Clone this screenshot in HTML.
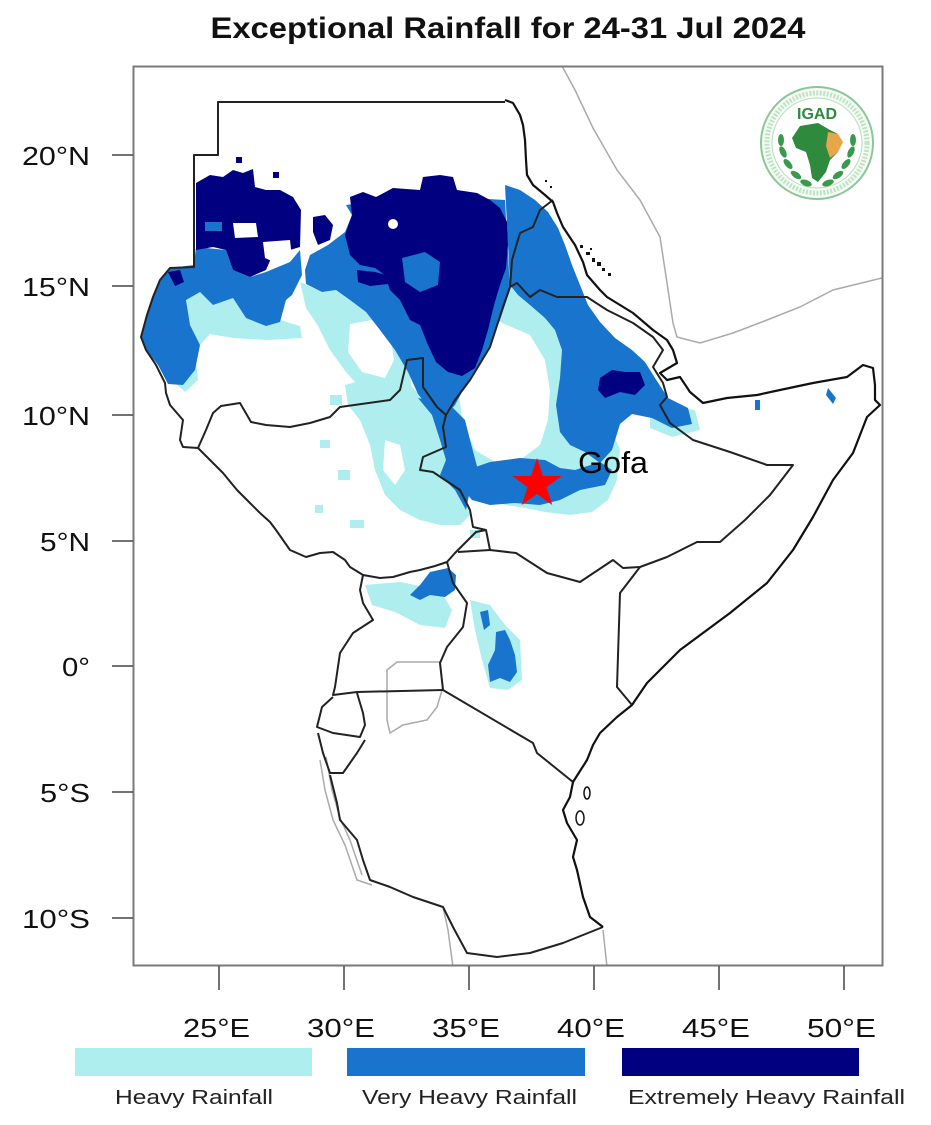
<!DOCTYPE html>
<html><head><meta charset="utf-8"><style>
html,body{margin:0;padding:0;background:#fff;}
svg{display:block;}
</style></head><body>
<svg width="931" height="1125" viewBox="0 0 931 1125" xmlns="http://www.w3.org/2000/svg">
<rect width="931" height="1125" fill="#fff"/>
<text x="508" y="38" font-family="Liberation Sans, sans-serif" font-weight="bold" font-size="30" text-anchor="middle" textLength="595" lengthAdjust="spacingAndGlyphs" fill="#111">Exceptional Rainfall for 24-31 Jul 2024</text>

<defs><clipPath id="fr"><rect x="134" y="67" width="748" height="898"/></clipPath></defs>

<g clip-path="url(#fr)">
<!-- cyan -->
<g fill="#afeeee">
<polygon points="186,298 200,292 213,305 233,298 246,318 266,325 280,320 300,326 302,338 266,340 233,338 210,334 200,345 190,330"/>
<polygon points="300,282 322,292 336,290 350,300 366,312 382,330 396,350 410,372 412,396 390,398 362,390 346,372 330,350 318,326 306,308"/>
<polygon points="345,385 370,378 395,372 410,385 425,400 440,420 455,440 458,470 462,490 470,515 460,525 440,525 420,520 400,510 385,495 375,470 370,445 360,420 348,405"/>
<polygon points="500,275 520,268 545,280 560,300 575,330 590,360 600,395 610,425 620,450 617,480 608,500 592,512 570,515 545,512 525,508 505,505 490,490 470,475 455,455 445,430 450,400 460,370 470,345 480,320 490,295"/>
<polygon points="650,405 695,410 700,430 672,437 650,428"/>
<polygon points="365,585 400,582 440,590 452,610 445,628 420,625 395,612 372,605"/>
<polygon points="470,600 490,605 505,625 520,640 522,680 508,690 490,688 482,660 475,630"/>
<polygon points="175,350 195,352 198,380 185,392 172,380"/>
<rect x="320" y="440" width="10" height="8"/><rect x="338" y="470" width="12" height="10"/><rect x="315" y="505" width="8" height="8"/><rect x="350" y="520" width="14" height="8"/><rect x="330" y="395" width="12" height="10"/><rect x="470" y="530" width="10" height="8"/>
</g>
<!-- white holes -->
<g fill="#fff">
<polygon points="470,330 500,322 530,335 545,360 550,390 548,420 540,445 520,460 495,462 475,450 462,420 458,385 462,355"/>
<polygon points="350,324 372,320 390,335 394,360 385,378 362,372 348,352"/>
<polygon points="385,440 400,445 405,470 395,485 383,470"/>
</g>
<!-- medium blue -->
<g fill="#1874cd">
<polygon points="170,268 194,265 196,247 226,250 233,270 250,277 266,272 290,262 300,250 302,275 292,295 286,300 280,322 266,326 246,318 233,298 213,305 200,292 186,300 190,325 200,345 195,370 183,385 168,384 158,365 146,350 141,337 146,315 153,297 160,280"/>
<polygon points="346,205 352,215 345,232 328,245 310,255 305,270 306,284 322,292 336,290 350,300 366,312 380,330 395,350 408,372 418,394 432,412 446,415 455,405 467,383 480,362 490,345 500,320 510,290 505,200 420,195"/>
<polygon points="505,185 520,190 535,200 548,212 558,228 565,245 572,265 580,285 588,305 600,322 615,338 632,350 645,362 655,378 668,398 688,408 692,424 672,428 652,418 632,414 620,424 612,450 600,463 585,452 570,445 560,432 556,405 560,378 562,350 555,330 545,318 530,305 518,295 510,285"/>
<polygon points="418,398 432,415 440,440 446,460 440,475 455,490 466,510 470,490 478,470 470,440 465,420 450,405"/>
<polygon points="467,470 490,462 520,458 545,460 560,468 575,470 600,462 612,470 605,485 580,490 560,500 540,505 515,503 490,505 472,500 462,488"/>
<polygon points="430,572 448,568 456,575 455,590 445,597 430,595 420,600 410,595 420,585"/>
<polygon points="496,632 505,630 510,640 515,655 517,672 510,682 500,678 490,682 488,665 495,650"/>
<polygon points="480,612 488,610 490,625 484,630"/>
<polygon points="828,388 836,398 833,404 826,395"/>
<polygon points="755,400 760,400 760,410 755,410"/>
</g>
<!-- dark -->
<g fill="#000080">
<polygon points="196,183 210,175 223,177 233,170 243,173 253,169 255,187 266,190 280,190 293,197 301,210 300,247 290,250 276,247 266,270 250,277 233,270 226,250 213,247 196,250"/>
<polygon points="350,197 363,192 376,197 393,188 420,190 423,177 440,175 453,177 457,190 477,193 490,200 500,208 507,222 508,245 506,268 500,285 494,305 488,330 482,350 475,368 462,376 448,372 436,362 428,345 420,325 410,320 400,300 390,290 385,275 375,268 360,265 350,255 345,235 352,215"/>
<polygon points="600,378 612,370 625,372 640,372 645,385 635,395 620,392 605,398 598,390"/>
<polygon points="168,272 180,270 184,282 175,286"/>
<polygon points="313,217 325,215 333,225 330,240 318,245 313,232"/>
<polygon points="357,270 375,272 390,276 388,284 370,286 358,282"/>
<rect x="236" y="157" width="6" height="6"/><rect x="273" y="172" width="6" height="6"/>
</g>
<g fill="#1874cd">
<polygon points="205,222 222,222 222,231 205,231"/>
<polygon points="402,258 425,252 440,262 438,285 420,292 405,282"/>
</g>
<g fill="#fff">
<polygon points="233,223 256,223 258,237 235,238"/>
<polygon points="263,242 290,240 292,258 278,264 265,258"/>
<circle cx="393" cy="224" r="5"/>
</g>

<!-- gray lines -->
<g fill="none" stroke="#aaa" stroke-width="1.5">
<polyline points="562,66 575,90 593,128 617,170 640,200 660,237 667,283 673,323 677,337 700,343 733,333 767,320 800,307 833,290 882,278"/>
<path d="M387,670 L397,662 L440,662 L443,687 L437,707 L427,720 L403,725 L390,733 L387,720 Z"/>
<polyline points="320,760 325,790 333,820 345,845 357,880 372,885"/>
<polyline points="326,757 332,790 340,818 350,840 362,875"/>
<polyline points="443,907 448,930 453,967"/>
<polyline points="603,930 607,967"/>
</g>
<!-- borders -->
<g fill="none" stroke="#222" stroke-width="2" stroke-linejoin="round">
<polyline points="505,102 218,102 218,155 194,155 194,267 170,268 160,280 153,297 147,315 141,337 146,350 156,365 165,383 166,393 170,405 183,420 180,440 183,447 198,448 210,460 223,473 237,490 250,503 260,513 270,522 276,530 290,550 306,557 320,553 333,552 345,560 350,567 363,575 380,578 393,577 410,572 420,570 435,566 447,562 455,553 476,532 486,530"/>
<polyline points="198,448 206,430 213,413 221,406 240,403 251,422 266,425 290,427 310,423 330,417 340,407 390,400 400,390 407,360 423,358 423,387 437,407 446,415"/>
<polyline points="553,200 540,210 533,227 520,233 512,260 510,287 503,307 490,347 470,380 455,400 446,415 443,427 446,447 423,457 420,470 433,472 460,490 470,510 473,527 486,530 490,550"/>
<polyline points="458,552 490,550 516,553 547,573 580,582 613,560 623,568 640,567 667,557 697,542 720,542 745,520 770,495 793,465 767,465 730,452 693,440 670,423 660,405 667,397 663,383 653,367 663,350 653,337 633,323 607,310 587,297 557,297 540,290 530,297 517,283 510,287"/>
<polyline points="640,567 620,593 617,687 632,705"/>
<polyline points="573,782 537,753 533,743 443,690 440,663 447,647 463,627 467,603 453,583 447,562"/>
<polyline points="443,690 357,692"/>
<polyline points="363,575 360,590 363,603 373,620 353,633 340,653 335,687 333,695 357,692"/>
<polyline points="333,697 322,707 317,727 333,733 360,737 365,725 363,713 357,693"/>
<polyline points="318,733 323,753 330,773 343,773 357,753 365,740"/>
<polyline points="330,775 337,803 340,820 357,840 363,860 370,880 390,887 413,897 443,907 453,927 467,953 497,957 530,953 563,943 603,927"/>
</g>
<polyline fill="none" stroke="#111" stroke-width="2.2" stroke-linejoin="round" points="505,100 513,103 520,115 523,125 525,140 526,160 527,175 533,185 545,195 553,202 557,213 563,227 575,245 583,262 587,275 600,290 607,297 620,305 633,313 653,330 667,340 673,350 677,363 660,373 667,380 680,377 690,392 703,403 727,398 757,395 780,390 813,383 847,377 863,365 873,368 875,385 875,400 880,405 867,417 860,435 853,453 833,480 813,517 793,550 767,583 730,613 680,650 647,683 632,705 617,717 600,733 593,745 587,760 573,782 570,797 563,810 567,823 577,840 573,857 577,870 583,897 590,917 603,927"/>
<g fill="#111">
<rect x="580" y="245" width="3" height="3"/><rect x="586" y="252" width="4" height="3"/><rect x="592" y="258" width="3" height="4"/><rect x="597" y="262" width="4" height="4"/><rect x="602" y="268" width="3" height="3"/><rect x="590" y="248" width="2" height="2"/><rect x="608" y="273" width="3" height="3"/><rect x="545" y="180" width="2" height="2"/><rect x="550" y="186" width="2" height="2"/>
</g>
<g fill="none" stroke="#111" stroke-width="1.5">
<ellipse cx="587" cy="793" rx="3" ry="6"/><ellipse cx="580" cy="818" rx="4" ry="7"/>
</g>

<!-- star & label -->
<polygon fill="#ff0000" points="537,458 542.9,475.9 561.7,476 546.5,487.1 552.3,505 537,494 521.7,505 527.5,487.1 512.3,476 531.1,475.9"/>
<text x="578" y="473" font-family="Liberation Sans, sans-serif" font-size="31" textLength="70" lengthAdjust="spacingAndGlyphs" fill="#000">Gofa</text>

<!-- logo -->
<g>
<circle cx="817" cy="143" r="56" fill="#f6fbf6" stroke="#8cc79a" stroke-width="2"/>
<circle cx="817" cy="143" r="50" fill="none" stroke="#a8d8b0" stroke-width="5" stroke-dasharray="2 1.5" opacity="0.7"/>
<circle cx="817" cy="143" r="45" fill="#fff" stroke="#b5ddbb" stroke-width="1"/>
<text x="817" y="119" font-family="Liberation Sans, sans-serif" font-weight="bold" font-size="16" text-anchor="middle" fill="#2e8b3e">IGAD</text>
<path d="M800,126 L818,123 L830,130 L838,134 L842,142 L838,152 L830,160 L826,172 L818,182 L812,178 L810,165 L806,152 L796,148 L792,138 Z" fill="#2e8b3e"/>
<path d="M828,132 L838,134 L843,142 L838,152 L830,158 L826,146 Z" fill="#e8a64a"/>
<g fill="#3a9a4c">
<ellipse cx="781" cy="140" rx="3" ry="6"/><ellipse cx="783" cy="152" rx="3" ry="6" transform="rotate(-25 783 152)"/><ellipse cx="788" cy="164" rx="3" ry="6" transform="rotate(-40 788 164)"/><ellipse cx="796" cy="175" rx="3" ry="6" transform="rotate(-55 796 175)"/><ellipse cx="806" cy="183" rx="3" ry="6" transform="rotate(-70 806 183)"/>
<ellipse cx="853" cy="140" rx="3" ry="6"/><ellipse cx="851" cy="152" rx="3" ry="6" transform="rotate(25 851 152)"/><ellipse cx="846" cy="164" rx="3" ry="6" transform="rotate(40 846 164)"/><ellipse cx="838" cy="175" rx="3" ry="6" transform="rotate(55 838 175)"/><ellipse cx="828" cy="183" rx="3" ry="6" transform="rotate(70 828 183)"/>
</g>
</g>
</g>

<!-- frame -->
<rect x="133.5" y="66.5" width="749" height="899" fill="none" stroke="#7a7a7a" stroke-width="2"/>
<!-- ticks -->
<g stroke="#444" stroke-width="1.5">
<line x1="112" y1="155" x2="133" y2="155"/><line x1="112" y1="286" x2="133" y2="286"/><line x1="112" y1="415" x2="133" y2="415"/><line x1="112" y1="541" x2="133" y2="541"/><line x1="112" y1="666" x2="133" y2="666"/><line x1="112" y1="792" x2="133" y2="792"/><line x1="112" y1="918" x2="133" y2="918"/>
<line x1="219" y1="966" x2="219" y2="990"/><line x1="344" y1="966" x2="344" y2="990"/><line x1="469" y1="966" x2="469" y2="990"/><line x1="594" y1="966" x2="594" y2="990"/><line x1="719" y1="966" x2="719" y2="990"/><line x1="844" y1="966" x2="844" y2="990"/>
</g>
<g font-family="Liberation Sans, sans-serif" font-size="26" fill="#111" text-anchor="end">
<text x="90" y="165" textLength="68" lengthAdjust="spacingAndGlyphs">20°N</text>
<text x="90" y="296" textLength="68" lengthAdjust="spacingAndGlyphs">15°N</text>
<text x="90" y="425" textLength="68" lengthAdjust="spacingAndGlyphs">10°N</text>
<text x="90" y="551" textLength="50" lengthAdjust="spacingAndGlyphs">5°N</text>
<text x="90" y="676" textLength="28" lengthAdjust="spacingAndGlyphs">0°</text>
<text x="90" y="802" textLength="50" lengthAdjust="spacingAndGlyphs">5°S</text>
<text x="90" y="928" textLength="68" lengthAdjust="spacingAndGlyphs">10°S</text>
</g>
<g font-family="Liberation Sans, sans-serif" font-size="26" fill="#111">
<text x="183" y="1037" textLength="67" lengthAdjust="spacingAndGlyphs">25°E</text>
<text x="307" y="1037" textLength="68" lengthAdjust="spacingAndGlyphs">30°E</text>
<text x="432" y="1037" textLength="68" lengthAdjust="spacingAndGlyphs">35°E</text>
<text x="557" y="1037" textLength="68" lengthAdjust="spacingAndGlyphs">40°E</text>
<text x="682" y="1037" textLength="68" lengthAdjust="spacingAndGlyphs">45°E</text>
<text x="807" y="1037" textLength="69" lengthAdjust="spacingAndGlyphs">50°E</text>
</g>
<!-- legend -->
<rect x="75" y="1048" width="237" height="28" fill="#afeeee"/>
<rect x="347" y="1048" width="238" height="28" fill="#1874cd"/>
<rect x="622" y="1048" width="237" height="28" fill="#000080"/>
<g font-family="Liberation Sans, sans-serif" font-size="20" fill="#222">
<text x="115" y="1104" textLength="158" lengthAdjust="spacingAndGlyphs">Heavy Rainfall</text>
<text x="362" y="1104" textLength="215" lengthAdjust="spacingAndGlyphs">Very Heavy Rainfall</text>
<text x="628" y="1104" textLength="277" lengthAdjust="spacingAndGlyphs">Extremely Heavy Rainfall</text>
</g>
</svg>
</body></html>
